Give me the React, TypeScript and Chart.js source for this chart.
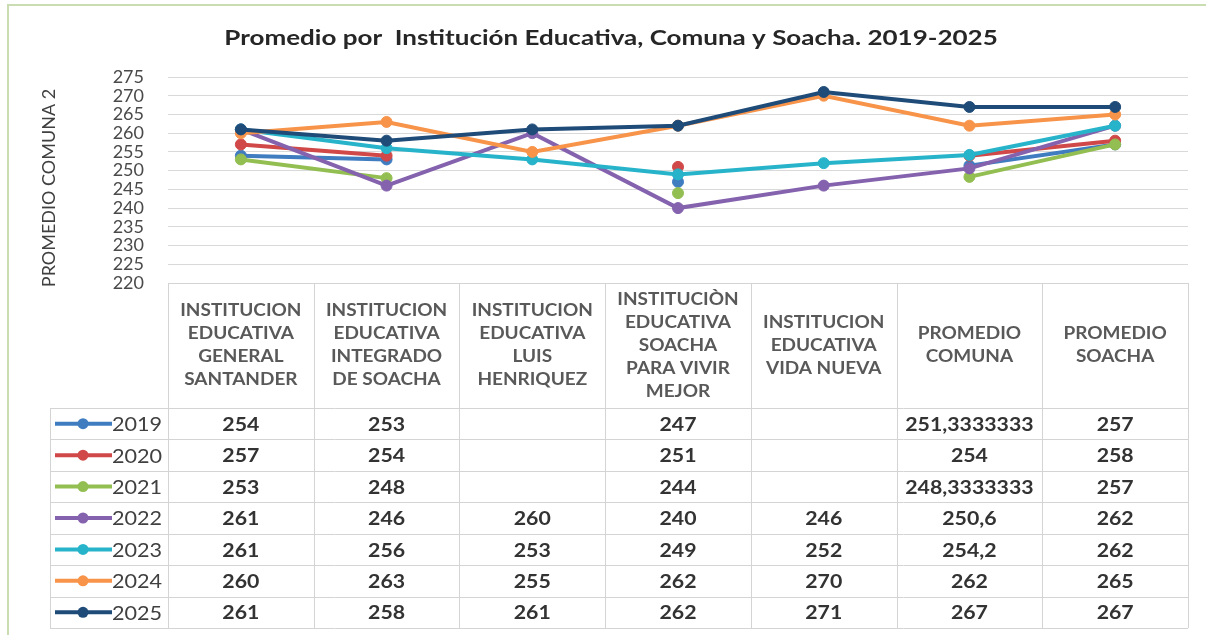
import React, { useEffect, useRef } from "react";
import { Chart, registerables } from "chart.js";

Chart.register(...registerables);

const TITLE = "Promedio por  Institución Educativa, Comuna y Soacha. 2019-2025";
const Y_TITLE = "PROMEDIO COMUNA 2";

const CATEGORY_LINES: string[][] = [
  ["INSTITUCION", "EDUCATIVA", "GENERAL", "SANTANDER"],
  ["INSTITUCION", "EDUCATIVA", "INTEGRADO", "DE SOACHA"],
  ["INSTITUCION", "EDUCATIVA", "LUIS", "HENRIQUEZ"],
  ["INSTITUCIÒN", "EDUCATIVA", "SOACHA", "PARA VIVIR", "MEJOR"],
  ["INSTITUCION", "EDUCATIVA", "VIDA NUEVA"],
  ["PROMEDIO", "COMUNA"],
  ["PROMEDIO", "SOACHA"],
];

const YEARS = ["2019", "2020", "2021", "2022", "2023", "2024", "2025"];

const V2019 = [254, 253, null, 247, null, 251.3333333, 257];
const V2020 = [257, 254, null, 251, null, 254, 258];
const V2021 = [253, 248, null, 244, null, 248.3333333, 257];
const V2022 = [261, 246, 260, 240, 246, 250.6, 262];
const V2023 = [261, 256, 253, 249, 252, 254.2, 262];
const V2024 = [260, 263, 255, 262, 270, 262, 265];
const V2025 = [261, 258, 261, 262, 271, 267, 267];

const SERIES = [V2019, V2020, V2021, V2022, V2023, V2024, V2025];

const COLORS = ["#3F7CC0", "#D04848", "#93BE52", "#8462AE", "#27B4CA", "#F7944A", "#1F4B78"];

const Y_MIN = 220;
const Y_MAX = 275;
const Y_STEP = 5;

const FONT = "Lato, 'Open Sans', sans-serif";

const fmt = (v: number | null) => (v === null ? "" : String(v).replace(".", ","));

function scaledText(ctx: CanvasRenderingContext2D, text: string, x: number, y: number, sx: number) {
  ctx.save();
  ctx.translate(x, y);
  ctx.scale(sx, 1);
  ctx.fillText(text, 0, 0);
  ctx.restore();
}

const tablePlugin = {
  id: "dataTable",
  afterDraw(chart: any) {
    const ctx = chart.ctx as CanvasRenderingContext2D;
    const area = chart.chartArea;
    const xs = chart.scales.x;
    const n = CATEGORY_LINES.length;
    const colW = (area.right - area.left) / n;
    const headTop = area.bottom;
    const headBottom = 408;
    const tableBottom = 628;
    const labelLeft = 50;
    const rowH = (tableBottom - headBottom) / YEARS.length;

    ctx.save();
    // frame of the chart object
    ctx.strokeStyle = "#CADCB2";
    ctx.lineWidth = 2;
    ctx.beginPath();
    ctx.moveTo(8, 640);
    ctx.lineTo(8, 5);
    ctx.lineTo(1206, 5);
    ctx.stroke();

    // title
    ctx.fillStyle = "#262626";
    ctx.textAlign = "center";
    ctx.textBaseline = "middle";
    ctx.font = `bold 20px ${FONT}`;
    scaledText(ctx, TITLE, 611, 39, 1.3);

    // y axis title
    ctx.save();
    ctx.translate(49, 188);
    ctx.rotate(-Math.PI / 2);
    ctx.fillStyle = "#404040";
    ctx.font = `18px ${FONT}`;
    ctx.fillText(Y_TITLE, 0, 0);
    ctx.restore();

    // table grid
    ctx.strokeStyle = "#D4D4D4";
    ctx.lineWidth = 1;
    ctx.beginPath();
    for (let i = 0; i <= n; i++) {
      const x = Math.round(area.left + i * colW) + 0.5;
      ctx.moveTo(x, headTop);
      ctx.lineTo(x, tableBottom);
    }
    ctx.moveTo(area.left, headTop + 0.5);
    ctx.lineTo(area.right, headTop + 0.5);
    for (let r = 0; r <= YEARS.length; r++) {
      const y = Math.round(headBottom + r * rowH) + 0.5;
      ctx.moveTo(labelLeft, y);
      ctx.lineTo(area.right, y);
    }
    ctx.moveTo(labelLeft + 0.5, headBottom);
    ctx.lineTo(labelLeft + 0.5, tableBottom);
    ctx.stroke();

    // header text
    ctx.textAlign = "center";
    ctx.textBaseline = "middle";
    ctx.fillStyle = "#595959";
    ctx.font = `bold 16.5px ${FONT}`;
    const lh = 23;
    const headMid = (headTop + headBottom) / 2;
    CATEGORY_LINES.forEach((lines, i) => {
      const cx = xs.getPixelForValue(i);
      const start = headMid - ((lines.length - 1) * lh) / 2;
      lines.forEach((t, k) => scaledText(ctx, t, cx, start + k * lh, 1.15));
    });

    // rows
    YEARS.forEach((yr, r) => {
      const cy = headBottom + r * rowH + rowH / 2;
      const color = COLORS[r];
      ctx.strokeStyle = color;
      ctx.lineWidth = 4;
      ctx.beginPath();
      ctx.moveTo(55, cy);
      ctx.lineTo(112, cy);
      ctx.stroke();
      ctx.fillStyle = color;
      ctx.beginPath();
      ctx.arc(83, cy, 5.5, 0, Math.PI * 2);
      ctx.fill();
      ctx.fillStyle = "#404040";
      ctx.font = `20px ${FONT}`;
      ctx.textAlign = "left";
      scaledText(ctx, yr, 112, cy + 1, 1.08);
      ctx.textAlign = "center";
      ctx.font = `bold 19px ${FONT}`;
      ctx.fillStyle = "#333333";
      SERIES[r].forEach((v, i) => {
        const s = fmt(v as number | null);
        if (s) scaledText(ctx, s, xs.getPixelForValue(i), cy + 1, 1.12);
      });
    });
    ctx.restore();
  },
};

export default function App() {
  const ref = useRef<HTMLCanvasElement | null>(null);

  useEffect(() => {
    if (!ref.current) return;
    const chart = new Chart(ref.current, {
      type: "line",
      data: {
        labels: CATEGORY_LINES.map((l) => l.join(" ")),
        datasets: YEARS.map((yr, i) => ({
          label: yr,
          data: SERIES[i],
          borderColor: COLORS[i],
          backgroundColor: COLORS[i],
          pointBackgroundColor: COLORS[i],
          pointBorderColor: COLORS[i],
          borderWidth: 4,
          pointRadius: 5.5,
          pointBorderWidth: 1,
          tension: 0,
          spanGaps: false,
          order: YEARS.length - 1 - i,
        })),
      },
      options: {
        animation: false,
        responsive: true,
        maintainAspectRatio: false,
        layout: { padding: { left: 0, right: 22, top: 77, bottom: 352 } },
        plugins: {
          legend: { display: false },
          tooltip: { enabled: false },
          title: { display: false },
        },
        scales: {
          x: {
            type: "category",
            display: false,
            offset: true,
          },
          y: {
            min: Y_MIN,
            max: Y_MAX,
            border: { display: false },
            grid: { color: "#D9D9D9", lineWidth: 1, drawTicks: false },
            ticks: {
              stepSize: Y_STEP,
              autoSkip: false,
              padding: 24,
              color: "#4A4A4A",
              font: { family: FONT, size: 18 },
            },
            afterFit: (s: any) => {
              s.width = 168;
            },
          },
        },
      },
      plugins: [tablePlugin],
    });
    return () => chart.destroy();
  }, []);

  return (
    <div style={{ position: "absolute", left: 0, top: 0, width: 1210, height: 635, background: "#fff" }}>
      <canvas ref={ref} />
    </div>
  );
}
